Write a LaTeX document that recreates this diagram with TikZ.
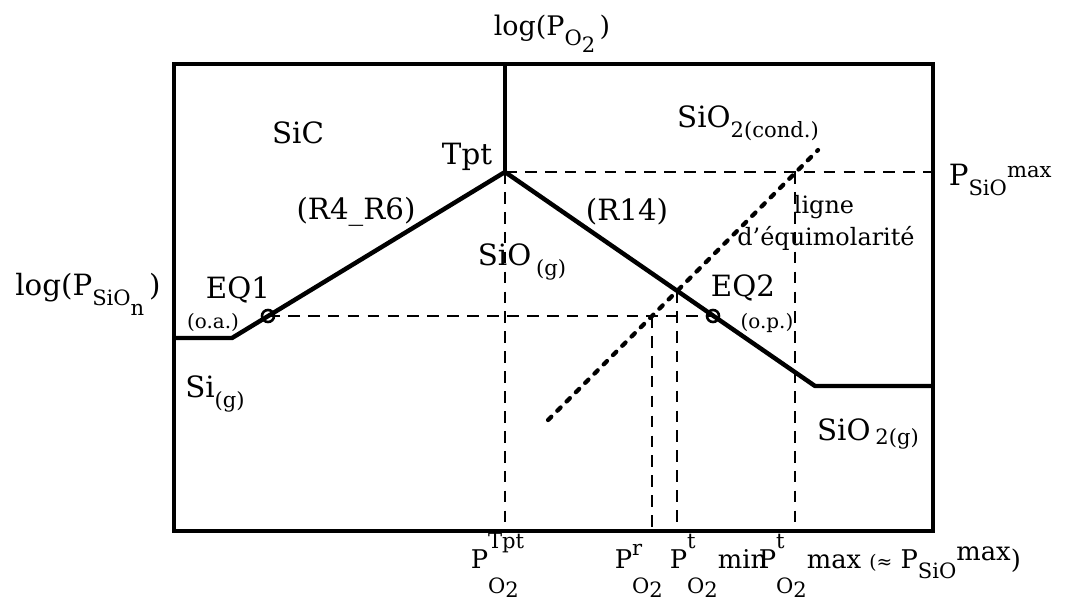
\documentclass[tikz,border=0pt]{standalone}
\usepackage{fontspec}
\setmainfont{DejaVu Serif}
\usetikzlibrary{calc}
\tikzset{every node/.style={font=\fontsize{12.5}{14}\selectfont,inner sep=1pt},
frame/.style={line width=1.3pt},curve/.style={line width=1.9pt,line join=round},
guide/.style={line width=1.15pt,dash pattern=on 5pt off 3.5pt},
equi/.style={line width=1.8pt,line cap=round,dash pattern=on 2pt off 3.6pt},
small/.style={font=\fontsize{8.5}{10}\selectfont},eqring/.style={line width=1.1pt},
axislabel/.style={font=\fontsize{11}{13}\selectfont,anchor=base west}}
\newcommand{\sbfont}{\fontsize{9}{10}\selectfont}
\newcommand{\dn}[1]{\raisebox{-4.3pt}{\sbfont #1}}
\newcommand{\POx}[2][8.5pt]{P\ooalign{\raisebox{#1}{\sbfont #2}\cr\raisebox{-11pt}{\sbfont O\raisebox{-1.5pt}{2}}\cr}}

\begin{document}
\begin{tikzpicture}[x=0.015cm,y=-0.015cm]
\useasboundingbox (0,0) rectangle (1074,608);
% frame and axes
\coordinate (fnw) at (174,64);\coordinate (fse) at (933,531);
\draw[frame] (fnw) rectangle (fse);
\coordinate (A) at (174,338);\coordinate (B) at (232,338);\coordinate (Tpt) at (505,172);
\coordinate (C) at (815,386);\coordinate (D) at (933,386);
\coordinate (EQ1) at (268,316);\coordinate (EQ2) at (713,316);
\coordinate (r) at (652,316);\coordinate (tmin) at (677,291);\coordinate (tmax) at (795,172);
\coordinate (e1) at (548,420);\coordinate (e2) at (818,150);
\draw[frame] (Tpt|-fnw)--(Tpt);
% dashed guides
\draw[guide] (Tpt)--(Tpt|-fse);\draw[guide] (Tpt)--(Tpt-|fse);
\draw[guide] (EQ1)--(EQ2);\draw[guide] (r)--(r|-fse);\draw[guide] (tmin)--(tmin|-fse);
\draw[guide] (tmax)--(tmax|-fse);
\draw[equi] (e1)--(e2);
% equilibrium line
\draw[curve] (A)--(B)--(Tpt)--(C)--(D);
\draw[eqring] (EQ1) circle(6);\draw[eqring] (EQ2) circle(6);
% labels
\node[anchor=base,font=\fontsize{11.5}{13}\selectfont] (ly) at (552,35){log(P\dn{O\raisebox{-3pt}{2}}\,)};
\node[anchor=base] (lx) at (88,295){log(P\dn{SiO\raisebox{-4.3pt}{n}}\,)};
\node (sic) at (298,133){SiC};\node (tpt) at (467,157){Tpt};
\node (r46) at (356,212){(R4\_R6)};\node (r14) at (627,212){(R14)};
\node[anchor=base] (sio) at (522,265){SiO\,\dn{(g)}};
\node[anchor=base] (cond) at (748,127){SiO\dn{2(cond.)}};
\node[anchor=base west] (psio) at (946,185){P\dn{SiO\raisebox{7.3pt}{max}}};
\node[font=\fontsize{10.2}{12}\selectfont] (lig1) at (824,207){ligne};
\node[font=\fontsize{10.2}{12}\selectfont] (lig2) at (826,238){d'équimolarité};
\node (eq1) at (238,290){EQ1};\node[small] (oa) at (213,322){(o.a.)};
\node (eq2) at (743,288){EQ2};\node[small] (op) at (767,323){(o.p.)};
\node[anchor=base] (sig) at (215,397){Si\dn{(g)}};
\node[anchor=base] (sio2g) at (868,440){SiO\,\raisebox{-2pt}{\sbfont 2(g)}};
\node[axislabel] (pt) at (468,568){\POx{Tpt}};
\node[axislabel] (pr) at (612,568){\POx[5.5pt]{r}};
\node[axislabel] (pmin) at (667,568){\POx{t}min};
\node[axislabel] (pmax) at (756,568){\POx{t}max {\fontsize{8}{10}\selectfont(≈} P\dn{SiO}\raisebox{3pt}{max})};
\end{tikzpicture}
\end{document}
